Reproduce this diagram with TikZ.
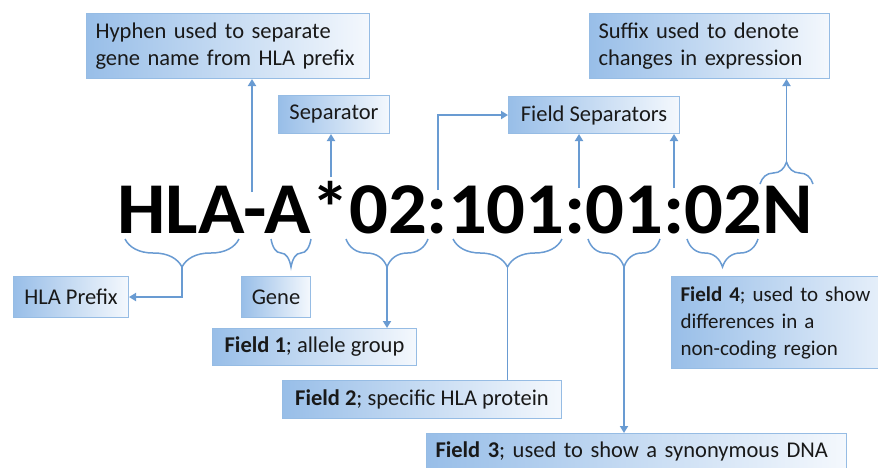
\documentclass[tikz,border=0pt]{standalone}
\usepackage{fontspec}
\setmainfont{Carlito}
\usetikzlibrary{decorations.pathreplacing,arrows.meta,calc}
\definecolor{lineblue}{RGB}{105,155,210}
\definecolor{boxdark}{RGB}{152,190,232}
\definecolor{boxlight}{RGB}{244,248,253}
\definecolor{boxedge}{RGB}{150,188,228}
\definecolor{ink}{RGB}{25,25,25}
\begin{document}
\begin{tikzpicture}[x=1pt,y=-1pt,
  lbl/.style={draw=boxedge, line width=1pt, left color=boxdark, right color=boxlight,
    text=ink, font=\fontsize{22.5}{26.5}\selectfont, inner xsep=9pt, inner ysep=0pt,
    anchor=north west},
  multi/.style={lbl, align=left},
  conn/.style={draw=lineblue, line width=1.8pt},
  arr/.style={conn, -{Triangle[width=8pt,length=7pt]}},
  brcdown/.style={draw=lineblue, line width=1.5pt, decorate, decoration={brace, amplitude=28pt, mirror}},
  brcup/.style={draw=lineblue, line width=1.5pt, decorate, decoration={brace, amplitude=22pt}}
]
\useasboundingbox (0,0) rectangle (878,467);
\clip (0,0) rectangle (878,467);
\fill[white] (0,0) rectangle (878,467);

% main code
\node[font=\fontsize{73}{73}\selectfont\bfseries, anchor=base west, inner sep=0pt, xscale=1.05] (code) at (117,233) {HLA-A*02:101:01:02N};

% boxes
\node[multi, text width=265pt, minimum height=65pt] (hyph) at (86,13) {Hyphen used to separate\\gene name from HLA prefix};
\node[lbl, minimum width=111pt, minimum height=38pt] (sep) at (278,95) {Separator};
\node[lbl, minimum width=171pt, minimum height=37pt] (fsep) at (508,96) {Field Separators};
\node[multi, text width=222pt, minimum height=65pt] (suffix) at (589,13) {Suffix used to denote\\changes in expression};
\node[lbl, minimum width=115pt, minimum height=41pt] (prefix) at (13,276) {HLA Prefix};
\node[lbl, minimum width=69pt, minimum height=41pt] (gene) at (241,276) {Gene};
\node[lbl, minimum width=204pt, minimum height=37pt] (f1) at (212,328) {\textbf{Field 1}; allele group};
\node[lbl, minimum width=279pt, minimum height=38pt] (f2) at (282,380) {\textbf{Field 2}; specific HLA protein};
\node[lbl, text width=402pt, align=left, minimum height=36pt] (f3) at (426,433) {\textbf{Field 3}; used to show a synonymous DNA};
\node[multi, font=\fontsize{21}{27}\selectfont, text width=230pt, minimum height=92pt] (f4) at (671,276) {\textbf{Field 4}; used to show\\differences in a\\non-coding region};

% braces below
\coordinate (hla-l) at (125,239); \coordinate (hla-r) at (239,239);
\coordinate (gen-l) at (271,239); \coordinate (gen-r) at (311,239);
\coordinate (fa-l) at (346,239);  \coordinate (fa-r) at (428,239);
\coordinate (fb-l) at (453,239);  \coordinate (fb-r) at (562,239);
\coordinate (fc-l) at (588,239);  \coordinate (fc-r) at (660,239);
\coordinate (fd-l) at (687,239);  \coordinate (fd-r) at (758,239);
\coordinate (n-l) at (760,184);   \coordinate (n-r) at (813,184);
\draw[brcdown] (hla-l) -- (hla-r);
\draw[brcdown] (gen-l) -- (gen-r);
\draw[brcdown] (fa-l) -- (fa-r);
\draw[brcdown] (fb-l) -- (fb-r);
\draw[brcdown] (fc-l) -- (fc-r);
\draw[brcdown] (fd-l) -- (fd-r);
\draw[brcup] (n-l) -- (n-r);
\coordinate (hla-t) at ($(hla-l)!0.5!(hla-r)+(0,28)$);
\coordinate (fa-t) at ($(fa-l)!0.5!(fa-r)+(0,28)$);
\coordinate (fb-t) at ($(fb-l)!0.5!(fb-r)+(0,28)$);
\coordinate (fc-t) at ($(fc-l)!0.5!(fc-r)+(0,28)$);
\coordinate (n-t) at ($(n-l)!0.5!(n-r)+(0,-22)$);

% connectors below
\draw[arr] (hla-t) |- (prefix.east);
\draw[arr] (fa-t) -- (fa-t |- f1.north);
\draw[conn] (fb-t) -- (fb-t |- f2.north);
\draw[arr] (fc-t) -- (fc-t |- f3.north);

% connectors above
\coordinate (hy) at (252,192);
\coordinate (st) at (331,177);
\coordinate (c1) at (438,190);
\coordinate (c2) at (579,188);
\coordinate (c3) at (674,188);
\draw[arr] (hy) -- (hy |- hyph.south);
\draw[arr] (st) -- (st |- sep.south);
\draw[arr] (c1) |- (fsep.west);
\draw[arr] (c2) -- (c2 |- fsep.south);
\draw[arr] (c3) -- (c3 |- fsep.south);
\draw[arr] (n-t) -- (n-t |- suffix.south);
\end{tikzpicture}
\end{document}
